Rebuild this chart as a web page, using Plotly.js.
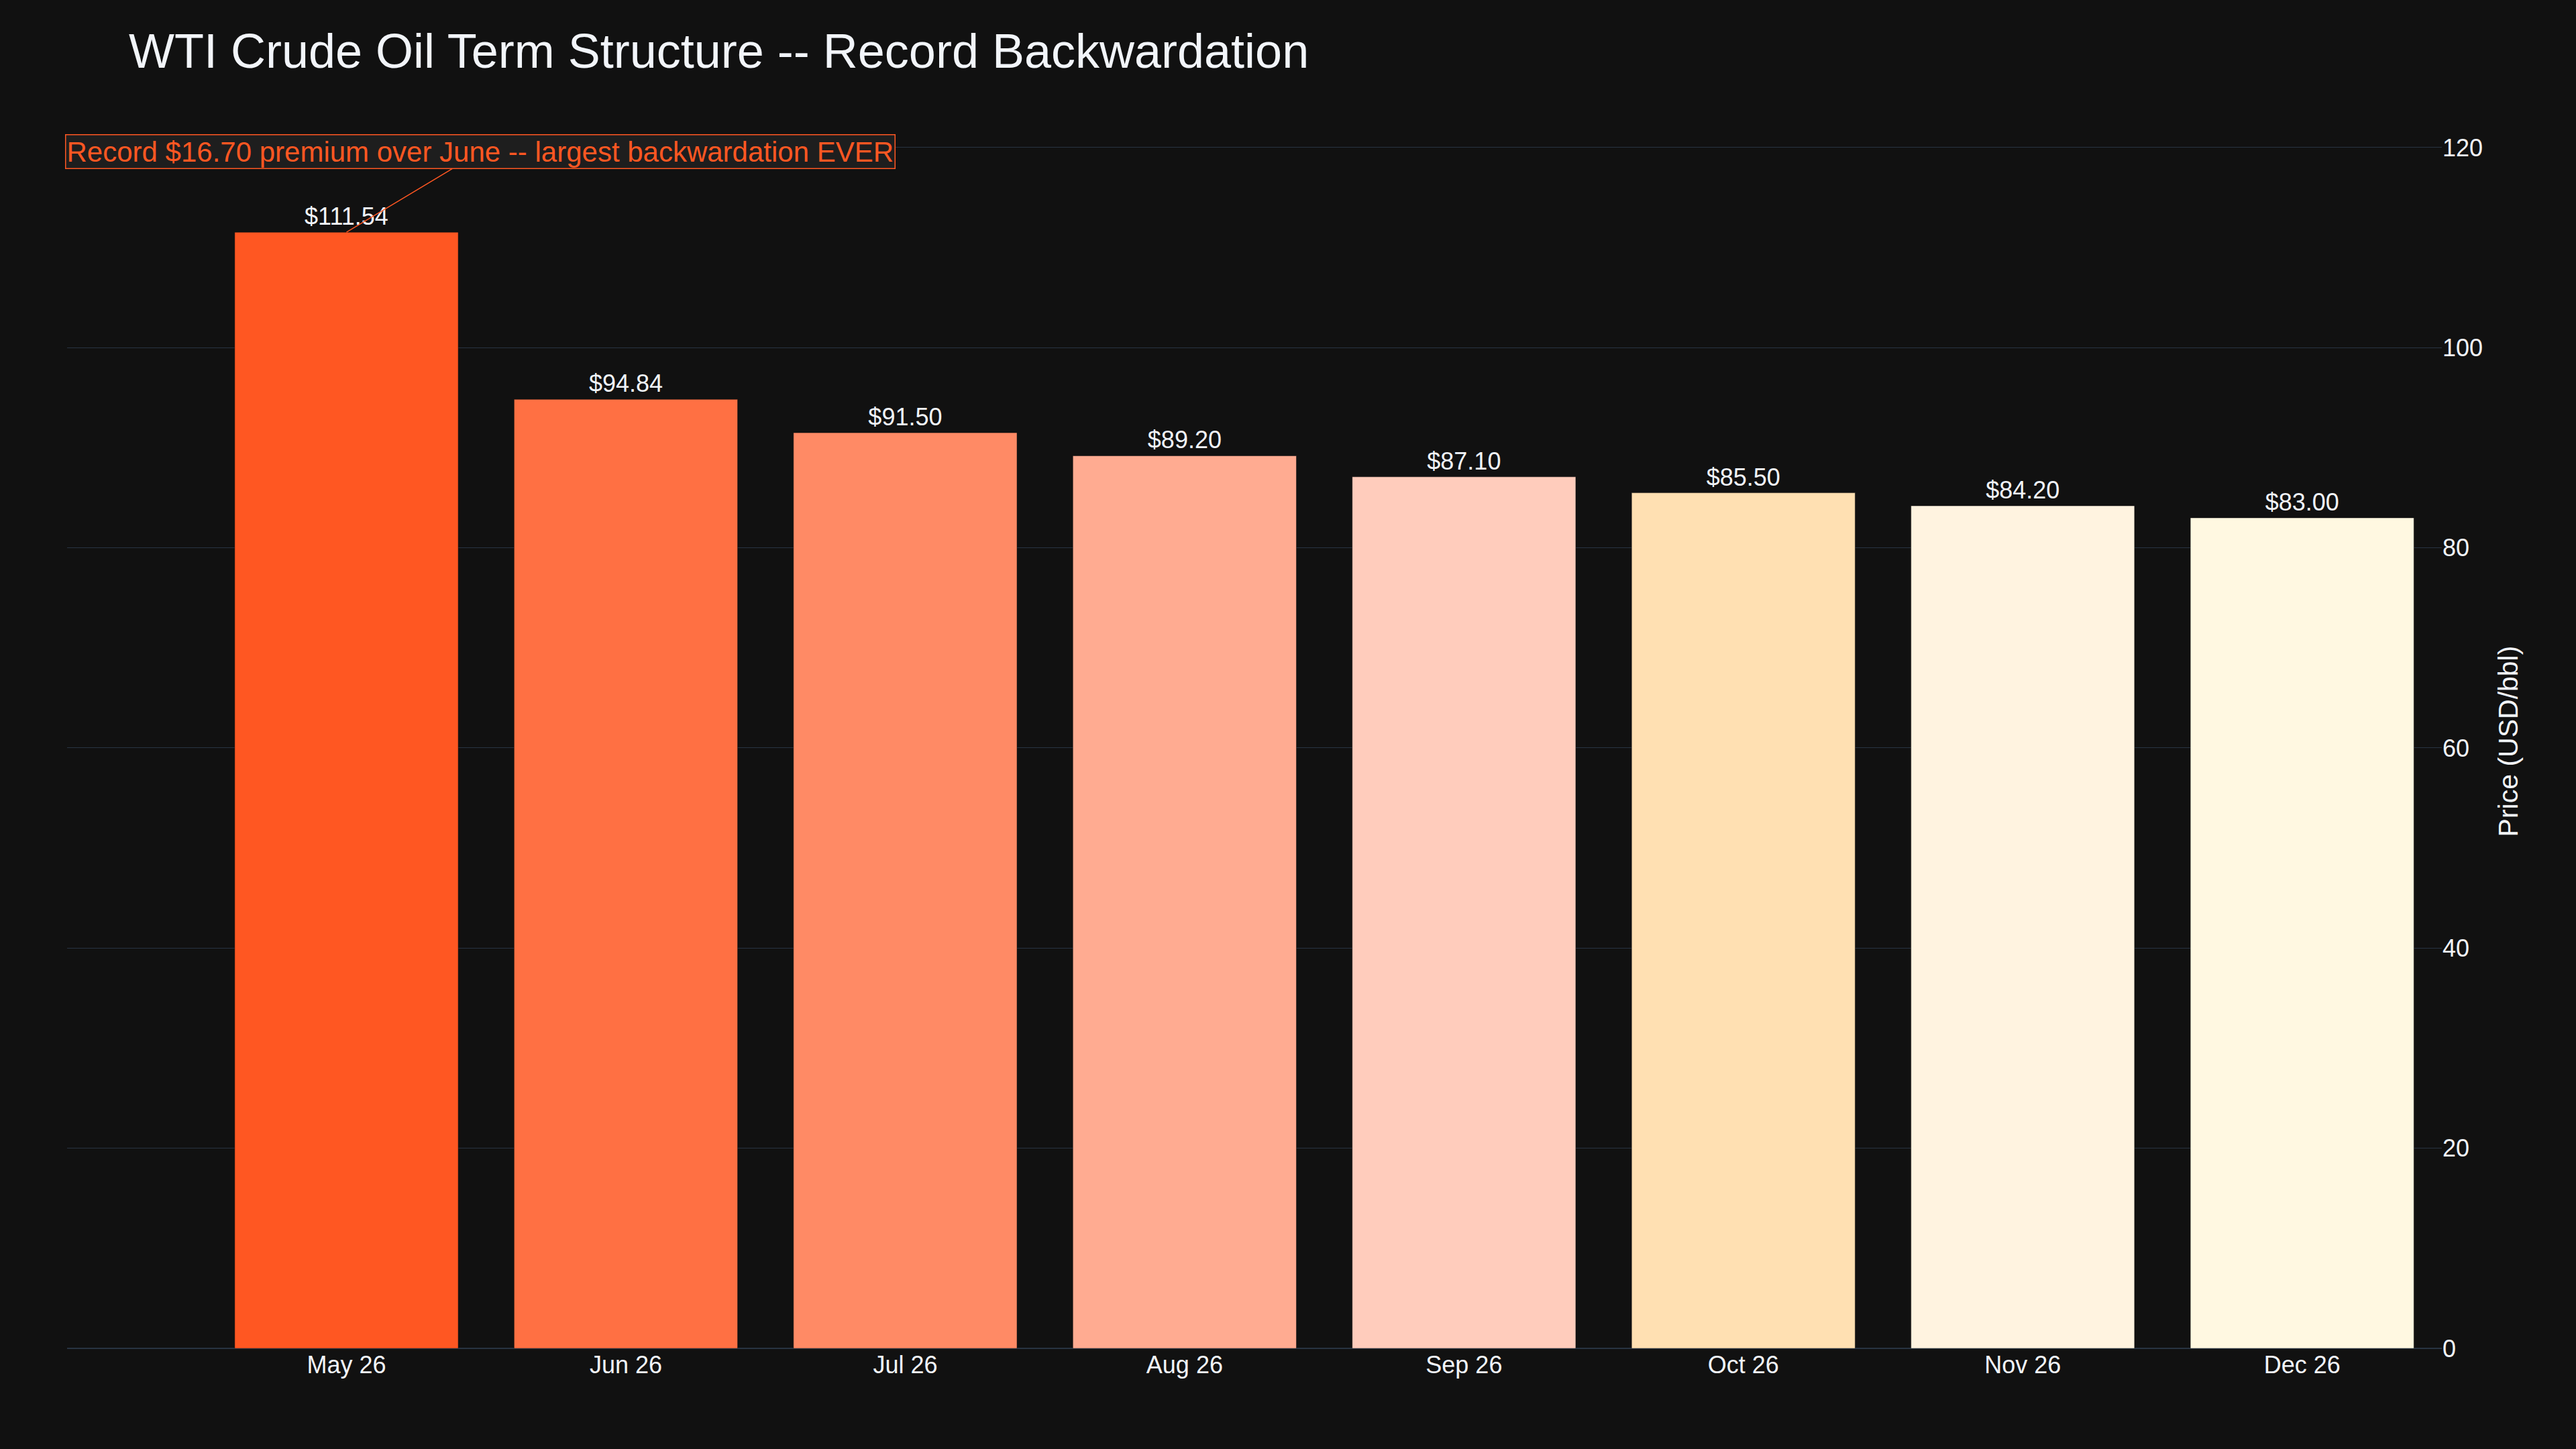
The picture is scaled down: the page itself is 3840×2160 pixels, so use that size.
<!DOCTYPE html>
<html>
<head>
<meta charset="utf-8">
<script src="https://cdn.plot.ly/plotly-3.0.1.min.js"></script>
<style>
  html, body { margin: 0; padding: 0; background: #111111; }
  #chart { width: 3840px; height: 2160px; }
</style>
</head>
<body>
<div id="chart"></div>
<script>
/* ---------------------------------------------------------------- */
/* DATA */
/* ---------------------------------------------------------------- */
var contracts = ['May 26', 'Jun 26', 'Jul 26', 'Aug 26', 'Sep 26', 'Oct 26', 'Nov 26', 'Dec 26'];
var prices = [111.54, 94.84, 91.50, 89.20, 87.10, 85.50, 84.20, 83.00];
var barColors = ['#FF5722', '#FF7043', '#FF8A65', '#FFAB91', '#FFCCBC', '#FFE0B2', '#FFF3E0', '#FFF8E1'];

var noteText = 'Record $16.70 premium over June -- largest backwardation EVER';

/* ---------------------------------------------------------------- */
/* CHART */
/* ---------------------------------------------------------------- */
var trace = {
  type: 'bar',
  x: contracts,
  y: prices,
  marker: {
    color: barColors,
    line: { color: '#111111', width: 0.5 }
  },
  texttemplate: '$%{y:.2f}',
  textposition: 'outside',
  cliponaxis: false,
  textfont: { color: '#f2f5fa', size: 36 },
  showlegend: false
};

var gridCol = '#283442';

var layout = {
  width: 3840,
  height: 2160,
  paper_bgcolor: '#111111',
  plot_bgcolor: '#111111',
  font: { family: 'Liberation Sans, Arial, sans-serif', color: '#f2f5fa', size: 36 },
  title: {
    text: 'WTI Crude Oil Term Structure -- Record Backwardation',
    x: 0.05,
    xanchor: 'left',
    y: 0.965,
    yanchor: 'middle',
    font: { size: 72, color: '#f2f5fa' }
  },
  margin: { l: 100, r: 200, t: 200, b: 150 },
  bargap: 0.2,
  xaxis: {
    type: 'category',
    range: [-1, 7.5],
    showgrid: false,
    showline: false,
    zeroline: false,
    tickfont: { size: 36 }
  },
  yaxis: {
    side: 'right',
    range: [0, 121.34],
    dtick: 20,
    showgrid: true,
    gridcolor: gridCol,
    gridwidth: 1,
    zeroline: true,
    zerolinecolor: gridCol,
    zerolinewidth: 2,
    tickfont: { size: 36 },
    title: { text: 'Price (USD/bbl)', font: { size: 41 } }
  },
  annotations: [{
    x: contracts[0],
    y: prices[0],
    text: noteText,
    showarrow: true,
    arrowhead: 0,
    arrowwidth: 1.5,
    arrowcolor: '#FF5722',
    ax: 200,
    ay: -120,
    font: { color: '#FF5722', size: 42 },
    bgcolor: '#1e1e1e',
    bordercolor: '#FF5722',
    borderwidth: 1.5
  }]
};

Plotly.newPlot('chart', [trace], layout, { displayModeBar: false, staticPlot: true });
</script>
</body>
</html>
